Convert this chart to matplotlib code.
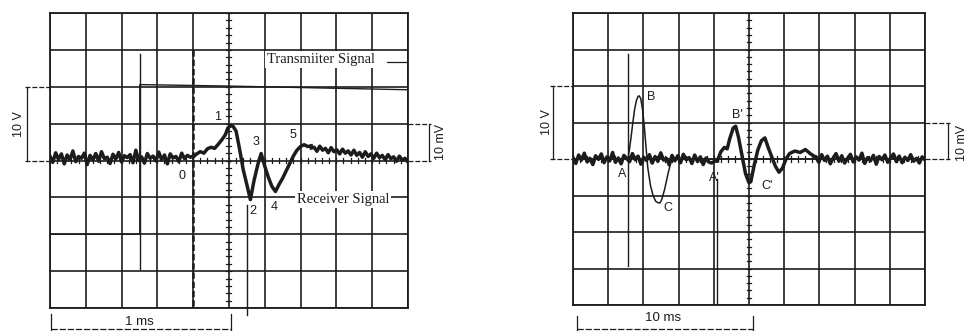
import numpy as np
import matplotlib
matplotlib.use("Agg")
import matplotlib.pyplot as plt

plt.rcParams['font.family'] = ['Liberation Sans', 'DejaVu Sans']

INK = '#1c1c1c'

# ---- left screen: 0.2 ms/div, receiver 10 mV/div, transmitter 5 V/div ----
# noisy baseline before the arrival (0 .. 0.8 ms), values in mV
left_pre_mv = [1.2, -0.5, 2.1, 0.3, 1.8, -0.9, 1.5, 0.2, 2.6, -0.3, 1.1, 0.6, 2.0,
               -1.1, 1.4, 0.1, 1.9, -0.2, 2.4, 0.5, 0.9, -0.8, 1.7, 0.4, 2.2, -0.4,
               1.3, 0.8, 1.6, -0.6, 2.8, 0.0, 1.0, -0.7, 1.9, 0.6, 1.2, -0.1, 2.3,
               0.2, 1.5, -0.9, 1.8, 0.7, 1.1, -0.3, 2.0, 0.5, 1.4, 0.9, 1.2]
# the wave itself
left_wave_t = [0.80, 0.82, 0.84, 0.86, 0.88, 0.90, 0.92, 0.94, 0.96, 0.98, 0.994,
               1.01, 1.024, 1.04, 1.06, 1.08, 1.10, 1.12, 1.14, 1.162, 1.18, 1.20,
               1.22, 1.24, 1.26, 1.28, 1.30, 1.32, 1.34, 1.36, 1.38, 1.40, 1.42,
               1.44, 1.46]
left_wave_mv = [1.0, 1.8, 2.4, 2.0, 3.2, 3.6, 3.3, 4.4, 5.6, 7.0, 8.8, 9.5, 9.2,
                8.0, 3.0, -2.5, -6.5, -10.6, -5.5, -1.0, 1.9, -1.5, -4.5, -7.0,
                -8.4, -6.5, -4.8, -2.8, -0.8, 1.2, 2.8, 3.8, 4.3, 3.8, 4.0]
# slow tail after peak 5 (1.46 .. 2.0 ms)
left_post_mv = [3.4, 3.6, 2.5, 3.9, 2.8, 3.3, 2.1, 3.5, 2.4, 2.9, 1.8, 3.1, 2.0,
                2.6, 1.5, 2.8, 1.4, 2.2, 0.9, 2.4, 1.1, 1.8, 0.6, 2.0, 0.8, 1.4,
                0.2, 1.6, 0.5, 1.0, -0.2, 1.2, 0.1, 0.6, -0.4]
left_tx_t = [0.0, 0.502, 0.502, 1.0, 2.0]
left_tx_v = [-10.0, -10.0, 10.3, 10.1, 9.6]
left_marks = ['1', '2', '3', '4', '5', '0']
left_mark_t = [0.938, 1.132, 1.150, 1.252, 1.358, 0.736]
left_mark_mv = [11.9, -13.8, 4.9, -12.7, 7.0, -4.3]

# ---- right screen: 2 ms/div, receiver 10 mV/div, transmitter 5 V/div ----
right_pre_mv = [0.4, -1.2, 1.1, -0.3, 1.6, -0.8, 0.2, -1.5, 0.9, -0.1, 1.4, -1.0,
                0.6, -0.5, 1.8, -0.9, 0.3, -1.3, 1.0, 0.1, -0.7, 1.5, -0.2, 0.8,
                -1.4, 0.5, -0.4, 1.2, -1.1, 0.7, -0.6, 1.7, -0.3, 0.2, -1.6, 1.0,
                -0.5, 0.9, -1.0, 1.3, -0.2, 0.4, -1.2, 1.1, -0.7, 0.6, -1.5, 0.3,
                -0.8, -1.1, -0.6, -0.5]
right_wave_t = [8.2, 8.4, 8.6, 8.76, 8.9, 9.1, 9.24, 9.4, 9.6, 9.8, 10.0, 10.1,
                10.3, 10.5, 10.7, 10.9, 11.1, 11.3, 11.5, 11.7, 11.9, 12.1, 12.3,
                12.6, 12.9, 13.2, 13.5, 13.8]
right_wave_mv = [-0.5, 2.0, 3.2, 2.8, 5.5, 8.5, 9.0, 6.0, 1.0, -4.0, -6.5, -6.2,
                 -1.5, 2.5, 5.0, 5.8, 3.0, 0.5, -2.0, -3.6, -2.5, 0.0, 1.5, 2.2,
                 1.8, 2.6, 1.4, 0.5]
right_post_mv = [0.5, -0.9, 1.2, -0.4, 0.8, -1.3, 0.3, 1.5, -0.6, 0.9, -1.1, 0.2,
                 1.3, -0.8, 0.6, -0.3, 1.6, -1.2, 0.4, -0.5, 1.0, -1.4, 0.7, -0.2,
                 1.1, -0.9, 0.3, 1.4, -0.7, 0.8, -1.0, 0.5, -0.4, 1.2, -0.6, 0.2,
                 -1.1, 0.6, -0.3]
right_tx_t = [0.0, 3.12, 3.2, 3.3, 3.4, 3.5, 3.6, 3.7, 3.76, 3.85, 3.95, 4.05,
              4.15, 4.25, 4.4, 4.55, 4.7, 4.85, 4.95, 5.05, 5.2, 5.4, 5.6, 20.0]
right_tx_v = [0.0, 0.0, 1.2, 3.0, 5.0, 6.8, 8.0, 8.6, 8.65, 8.3, 6.8, 4.5, 1.6,
              -1.2, -3.6, -5.0, -5.8, -6.0, -6.0, -5.5, -4.2, -2.0, 0.0, 0.0]
right_marks = ['A', 'B', 'C', "A'", "B'", "C'"]
right_mark_t = [2.78, 4.44, 5.40, 8.06, 9.32, 11.02]
right_mark_mv = [-4.1, 17.0, -13.4, -5.2, 12.0, -7.4]

TRACE_LW = 2.5


def screen(rect, tdiv):
    ax = fig.add_axes(rect)
    ax.set_xlim(0, 10 * tdiv)
    ax.set_ylim(-40, 40)
    ax.set_xticks(np.arange(0, 10.5, 1) * tdiv)
    ax.set_yticks(np.arange(-40, 41, 10))
    ax.grid(True, color=INK, lw=1.2)
    ax.tick_params(length=0, labelbottom=False, labelleft=False)
    for s in ax.spines.values():
        s.set_color(INK)
        s.set_linewidth(1.3)
    # graticule minor marks on the centre lines
    for y in np.arange(-40, 41, 2):
        ax.plot([5 * tdiv - 0.07 * tdiv, 5 * tdiv + 0.07 * tdiv], [y, y], color=INK, lw=0.9)
    for x in np.arange(0, 10.01, 0.2) * tdiv:
        ax.plot([x, x], [-0.7, 0.7], color=INK, lw=0.9)
    tx = ax.twinx()
    tx.set_ylim(-20, 20)
    tx.set_axis_off()
    return ax, tx


def bracket_v(ax, x, x0, x1, y0, y1):
    ax.plot([x, x], [y0, y1], color=INK, lw=0.9, clip_on=False)
    for y in (y0, y1):
        ax.plot([x0, x1], [y, y], color=INK, lw=0.9, ls=(0, (4, 1.5)), clip_on=False)


def bracket_h(ax, y, x0, x1, ya, yb):
    ax.plot([x0, x1], [y, y], color=INK, lw=0.9, ls=(0, (5, 1.5)), clip_on=False)
    for x in (x0, x1):
        ax.plot([x, x], [ya, yb], color=INK, lw=0.9, clip_on=False)


fig = plt.figure(figsize=(9.70, 3.31), dpi=100)

# ------------------------------------------------ left
ax, tx = screen([0.0515, 0.0695, 0.369, 0.891], 0.2)
ax.plot(np.linspace(0, 0.8, len(left_pre_mv)), left_pre_mv, color=INK, lw=TRACE_LW)
ax.plot(left_wave_t, left_wave_mv, color=INK, lw=TRACE_LW)
ax.plot(np.linspace(1.46, 2.0, len(left_post_mv)), left_post_mv, color=INK, lw=TRACE_LW)
ax.plot([1.1, 1.1], [-12, -42], color=INK, lw=1.0, clip_on=False)
ax.plot([0.8, 0.8], [30, -40], color=INK, lw=1.8, ls=(0, (2.5, 1.2)))
tx.plot(left_tx_t, left_tx_v, color=INK, lw=1.0)
tx.plot([0.502, 0.502], [-14.75, 14.5], color=INK, lw=1.0)
for s, t, v in zip(left_marks, left_mark_t, left_mark_mv):
    ax.text(t, v, s, fontsize=9, ha='center', va='center', color=INK)
ax.text(1.212, 27.4, 'Transmiiter Signal', family=['Liberation Serif'], fontsize=10.5,
        ha='left', va='center', color=INK,
        bbox=dict(facecolor='white', edgecolor='none', pad=1.5), zorder=5)
ax.plot([1.882, 2.0], [26.8, 26.8], color=INK, lw=0.9, zorder=6)
ax.text(1.637, -10.6, 'Receiver Signal', family=['Liberation Serif'], fontsize=10.5,
        ha='center', va='center', color=INK,
        bbox=dict(facecolor='white', edgecolor='none', pad=1.5), zorder=5)
bracket_v(ax, -0.128, -0.14, 0.0, 0, 20)
ax.text(-0.174, 10, '10 V', rotation=90, fontsize=9, ha='center', va='center', color=INK)
bracket_v(ax, 2.118, 2.0, 2.13, 0, 10)
ax.text(2.185, 5, '10 mV', rotation=90, fontsize=9, ha='center', va='center', color=INK)
bracket_h(ax, -45.8, 0.006, 1.014, -41.7, -49.5)
ax.text(0.5, -43.9, '1 ms', fontsize=9.5, ha='center', va='center', color=INK)

# ------------------------------------------------ right
ax, tx = screen([0.5907, 0.0785, 0.363, 0.882], 2.0)
ax.plot(np.linspace(0, 8.2, len(right_pre_mv)), right_pre_mv, color=INK, lw=TRACE_LW)
ax.plot(right_wave_t, right_wave_mv, color=INK, lw=TRACE_LW)
ax.plot(np.linspace(13.8, 20, len(right_post_mv)), right_post_mv, color=INK, lw=TRACE_LW)
ax.plot([8.18, 8.18], [-5.5, -40], color=INK, lw=1.0)
tx.plot(right_tx_t, right_tx_v, color=INK, lw=1.1)
tx.plot([3.12, 3.12], [14.4, -14.65], color=INK, lw=1.0)
for s, t, v in zip(right_marks, right_mark_t, right_mark_mv):
    ax.text(t, v, s, fontsize=9, ha='center', va='center', color=INK)
bracket_v(ax, -1.14, -1.3, 0.0, 0, 20)
ax.text(-1.48, 10, '10 V', rotation=90, fontsize=9, ha='center', va='center', color=INK)
bracket_v(ax, 21.3, 20.0, 21.44, 0, 10)
ax.text(22.1, 4.4, '10 mV', rotation=90, fontsize=9, ha='center', va='center', color=INK)
bracket_h(ax, -46.6, 0.22, 10.22, -43, -49.5)
ax.text(5.12, -43.6, '10 ms', fontsize=9.5, ha='center', va='center', color=INK)

fig.savefig('out.png', dpi=100, facecolor='white')
